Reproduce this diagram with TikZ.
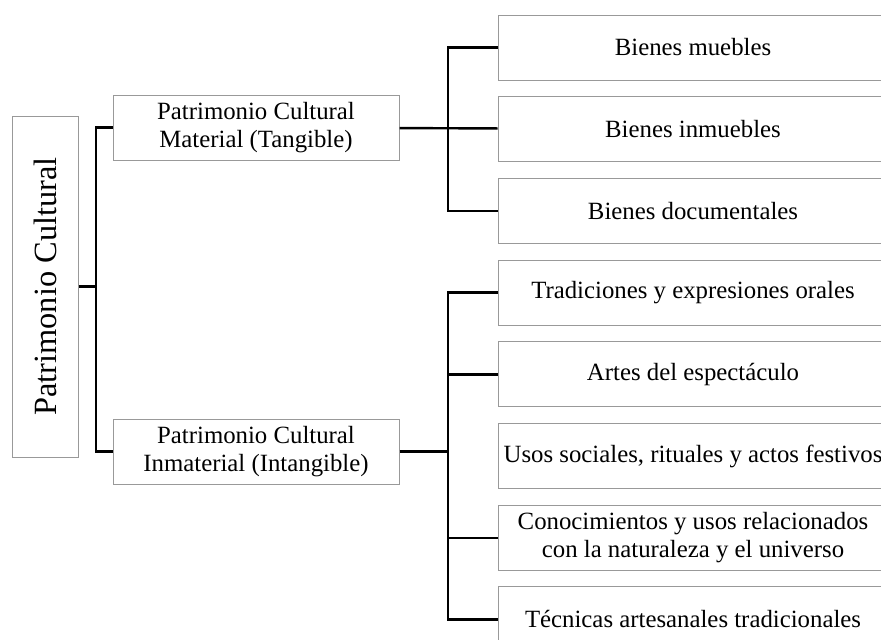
\documentclass[tikz,border=0pt]{standalone}
\usepackage{fontspec}
\setmainfont{Liberation Serif}
\usetikzlibrary{positioning}

\begin{document}
\begin{tikzpicture}[x=0.5pt, y=-0.5pt, line width=1.2pt, node distance=7.85pt, font=\fontsize{12.4}{13.8}\selectfont, box/.style = {draw=gray!80, line width=0.5pt, rectangle, align=center, inner sep=0pt}, main/.style = {box, minimum width=195pt, minimum height=32.5pt}, side/.style = {box, minimum width=143pt, minimum height=32.5pt}]
    \useasboundingbox (0,0) rectangle (881,639);
    \clip (0,0) rectangle (881,639);

    \node[box, rotate=90, minimum width=170.5pt, minimum height=33pt, font=\fontsize{16.2}{18}\selectfont] (1) at (45,286.5) {Patrimonio Cultural};
    \node[side] (2) at (256,127.5) {Patrimonio Cultural\\Material (Tangible)};
    \node[side] (3) at (256,451.5) {Patrimonio Cultural\\Inmaterial (Intangible)};

    \node[main] (4) at (693,47.5) {Bienes muebles};
    \node[main] (5) [below=of 4] {Bienes inmuebles};
    \node[main] (6) [below=of 5] {Bienes documentales};
    \node[main] (7) [below=of 6] {Tradiciones y expresiones orales};
    \node[main] (8) [below=of 7] {Artes del espect\'aculo};
    \node[main] (9) [below=of 8] {Usos sociales, rituales y actos festivos};
    \node[main] (10) [below=of 9] {Conocimientos y usos relacionados\\con la naturaleza y el universo};
    \node[main] (11) [below=of 10] {T\'ecnicas artesanales tradicionales};

    \coordinate (a) at (96,286.5);
    \coordinate (b) at (448,127.5);
    \coordinate (c) at (448,451.5);

    \draw (1) -- (a);
    \draw (2.west) -| (a) |- (3.west);

    \draw (2) -- (5);
    \draw (4.west) -| (b) |- (6.west);

    \draw (3) -- (c);
    \draw (7.west) -| (c) |- (11.west);
    \draw (8.west) -- (8.west -| c);
    \draw (10.west) -- (10.west -| c);
\end{tikzpicture}
\end{document}
